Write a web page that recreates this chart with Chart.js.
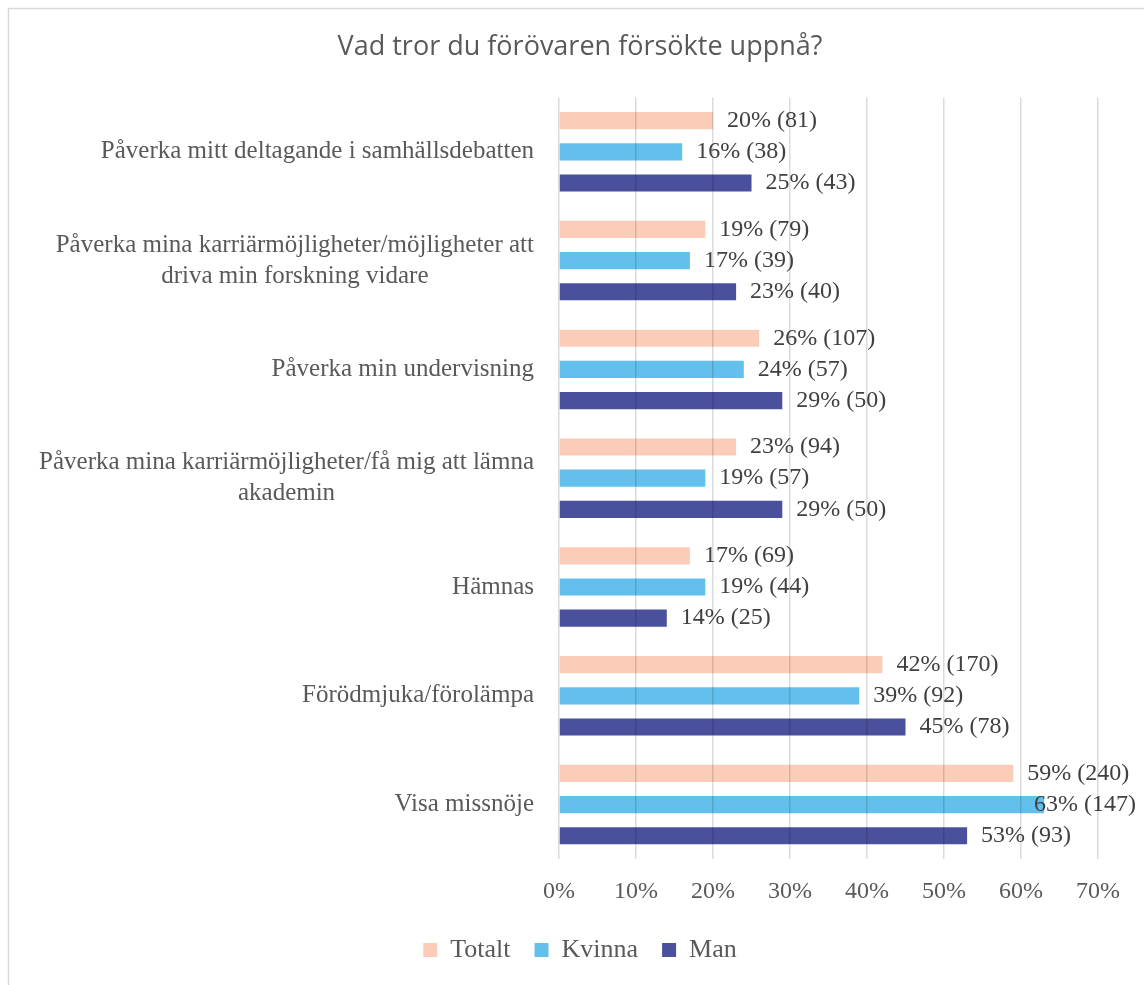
<!DOCTYPE html>
<html>
<head>
<meta charset="utf-8">
<script src="https://cdn.jsdelivr.net/npm/chart.js@4"></script>
<style>
  body { margin: 0; background: #fff; }
  #wrap { width: 1144px; height: 985px; }
</style>
</head>
<body>
<div id="wrap"><canvas id="answersChart" width="1144" height="985"></canvas></div>
<script>
  // Categories, top to bottom (multi-line ones split as in the original)
  const categories = [
    'Påverka mitt deltagande i samhällsdebatten',
    ['Påverka mina karriärmöjligheter/möjligheter att', 'driva min forskning vidare'],
    'Påverka min undervisning',
    ['Påverka mina karriärmöjligheter/få mig att lämna', 'akademin'],
    'Hämnas',
    'Förödmjuka/förolämpa',
    'Visa missnöje'
  ];

  // Percent and count per group
  const totaltPct = [20, 19, 26, 23, 17, 42, 59];
  const totaltN   = [81, 79, 107, 94, 69, 170, 240];
  const kvinnaPct = [16, 17, 24, 19, 19, 39, 63];
  const kvinnaN   = [38, 39, 57, 57, 44, 92, 147];
  const manPct    = [25, 23, 29, 29, 14, 45, 53];
  const manN      = [43, 40, 50, 50, 25, 78, 93];

  const xTicks = [0, 10, 20, 30, 40, 50, 60, 70];

  const serif = '"Liberation Serif", "Times New Roman", serif';
  const counts = [totaltN, kvinnaN, manN];

  // Border round the chart (only top and left show in the picture)
  const frame = {
    id: 'frame',
    beforeDraw(chart) {
      const c = chart.ctx;
      c.save();
      c.fillStyle = '#fff';
      c.fillRect(0, 0, chart.width, chart.height);
      c.strokeStyle = '#d9d9d9';
      c.lineWidth = 1.5;
      c.strokeRect(8.5, 8.5, chart.width + 20, chart.height + 20);
      c.restore();
    }
  };

  // Category labels, wrapped lines centred inside their block
  const categoryLabels = {
    id: 'categoryLabels',
    afterDraw(chart) {
      const c = chart.ctx;
      const y = chart.scales.y;
      const right = chart.chartArea.left - 25;
      c.save();
      c.font = '25px ' + serif;
      c.fillStyle = '#595959';
      c.textAlign = 'center';
      c.textBaseline = 'middle';
      categories.forEach((lab, i) => {
        const lines = Array.isArray(lab) ? lab : [lab];
        const maxW = Math.max(...lines.map(l => c.measureText(l).width));
        const cx = right - maxW / 2;
        const yc = y.getPixelForTick(i);
        lines.forEach((l, j) => {
          c.fillText(l, cx, yc + (j - (lines.length - 1) / 2) * 31);
        });
      });
      c.restore();
    }
  };

  // "20% (81)" labels at the bar ends
  const valueLabels = {
    id: 'valueLabels',
    afterDatasetsDraw(chart) {
      const c = chart.ctx;
      c.save();
      c.font = '24px ' + serif;
      c.fillStyle = '#404040';
      c.textAlign = 'left';
      c.textBaseline = 'middle';
      chart.data.datasets.forEach((ds, d) => {
        chart.getDatasetMeta(d).data.forEach((bar, i) => {
          const txt = ds.data[i] + '% (' + counts[d][i] + ')';
          const w = c.measureText(txt).width;
          const x = Math.min(bar.x + 14, chart.width - w - 8);
          c.fillText(txt, x, bar.y);
        });
      });
      c.restore();
    }
  };

  const answersData = {
    labels: categories.map(l => Array.isArray(l) ? l.join(' ') : l),
    datasets: [
      { label: 'Totalt', data: totaltPct, backgroundColor: '#fbcdb8' },
      { label: 'Kvinna', data: kvinnaPct, backgroundColor: '#63bfeb' },
      { label: 'Man', data: manPct, backgroundColor: '#4a509c' }
    ]
  };

  const answersConfig = {
    type: 'bar',
    data: answersData,
    options: {
      indexAxis: 'y',
      responsive: false,
      animation: false,
      categoryPercentage: 0.86,
      barPercentage: 0.55,
      layout: { padding: { left: 62, right: 46, top: 0, bottom: 12 } },
      scales: {
        x: {
          min: 0,
          max: 70,
          afterBuildTicks(scale) { scale.ticks = xTicks.map(v => ({ value: v })); },
          afterFit(scale) { scale.height = 54; },
          grid: { color: 'rgba(0,0,0,0.14)', lineWidth: 1.5, drawTicks: false, z: 1 },
          border: { display: false },
          ticks: {
            padding: 18,
            color: '#595959',
            font: { family: serif, size: 24 },
            callback: v => v + '%'
          }
        },
        y: {
          afterFit(scale) { scale.width = 497; },
          grid: { display: false },
          border: { display: false },
          ticks: { display: false }
        }
      },
      plugins: {
        title: {
          display: true,
          text: 'Vad tror du förövaren försökte uppnå?',
          color: '#595959',
          font: { family: '"Open Sans", sans-serif', size: 27, weight: 'normal' },
          padding: { top: 31, bottom: 34 }
        },
        legend: {
          position: 'bottom',
          labels: {
            color: '#595959',
            font: { family: serif, size: 26 },
            boxWidth: 14,
            boxHeight: 14,
            padding: 24
          }
        },
        tooltip: { enabled: false }
      }
    },
    plugins: [frame, categoryLabels, valueLabels]
  };

  const ctx = document.getElementById('answersChart').getContext('2d');
  new Chart(ctx, answersConfig);
</script>
</body>
</html>
